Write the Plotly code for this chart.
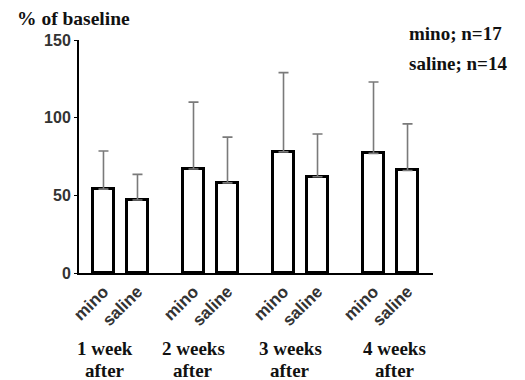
import plotly.graph_objects as go

groups_line1 = ["1 week", "2 weeks", "3 weeks", "4 weeks"]
groups_line2 = ["after", "after", "after", "after"]
series = ["mino", "saline"]
mino_mean = [54, 67, 78, 77]
mino_upper = [78.5, 110, 129, 123]
saline_mean = [47, 58, 62, 66]
saline_upper = [63.5, 87.5, 89.5, 96]
legend_text = ["mino; n=17", "saline; n=14"]

group_step = 2.647
label_offsets = [0.04, -0.01, 0.20, 0.63]

fig = go.Figure()
tickvals, ticktext = [], []
for si, (name, means, uppers) in enumerate([("mino", mino_mean, mino_upper), ("saline", saline_mean, saline_upper)]):
    xs = [g * group_step + si for g in range(len(groups_line1))]
    tickvals += xs
    ticktext += ["<b>" + name + "</b>"] * len(xs)
    fig.add_trace(go.Bar(
        x=xs, y=means, width=0.62, name=name,
        marker=dict(color="white", line=dict(color="black", width=3)),
        error_y=dict(type="data", symmetric=False,
                     array=[u - m for u, m in zip(uppers, means)],
                     arrayminus=[0] * len(means),
                     color="#7a7a7a", thickness=1.6, width=5),
        showlegend=False,
    ))

serif = "Liberation Serif"
for g in range(len(groups_line1)):
    xg = g * group_step + label_offsets[g]
    fig.add_annotation(x=xg, y=-0.326, xref="x", yref="paper", text="<b>" + groups_line1[g] + "</b>",
                       showarrow=False, yanchor="middle",
                       font=dict(family=serif, size=19, color="#111"))
    fig.add_annotation(x=xg, y=-0.418, xref="x", yref="paper", text="<b>" + groups_line2[g] + "</b>",
                       showarrow=False, yanchor="middle",
                       font=dict(family=serif, size=19, color="#111"))

fig.add_annotation(x=-0.181, y=1.093, xref="paper", yref="paper", text="<b>% of baseline</b>",
                   showarrow=False, xanchor="left", yanchor="middle",
                   font=dict(family=serif, size=19.5, color="#111"))
legend_y = [1.030, 0.901]
for i, t in enumerate(legend_text):
    fig.add_annotation(x=0.927, y=legend_y[i], xref="paper", yref="paper", text="<b>" + t + "</b>",
                       showarrow=False, xanchor="left", yanchor="middle",
                       font=dict(family=serif, size=19, color="#111"))

# page body has an 8px default margin: compensate so the plot lands where the reference has it
fig.update_layout(
    width=525, height=380,
    margin=dict(l=71, r=100, t=32, b=115),
    paper_bgcolor="white", plot_bgcolor="white",
    bargap=0,
    xaxis=dict(range=[-0.72, 9.69], tickvals=tickvals, ticktext=ticktext, tickangle=-45,
               showline=True, linecolor="black", linewidth=2, showgrid=False, zeroline=False,
               ticks="", tickfont=dict(family="Liberation Sans", size=17, color="#333")),
    yaxis=dict(range=[0, 150], tickvals=[0, 50, 100, 150], showline=True, linecolor="black",
               linewidth=2, showgrid=False, zeroline=False, ticks="outside", ticklen=3,
               tickcolor="black", tickwidth=1,
               ticktext=["<b>0</b>", "<b>50</b>", "<b>100</b>", "<b>150</b>"],
               tickfont=dict(family="Liberation Sans", size=16, color="#333")),
)

fig.write_html("out.html")
